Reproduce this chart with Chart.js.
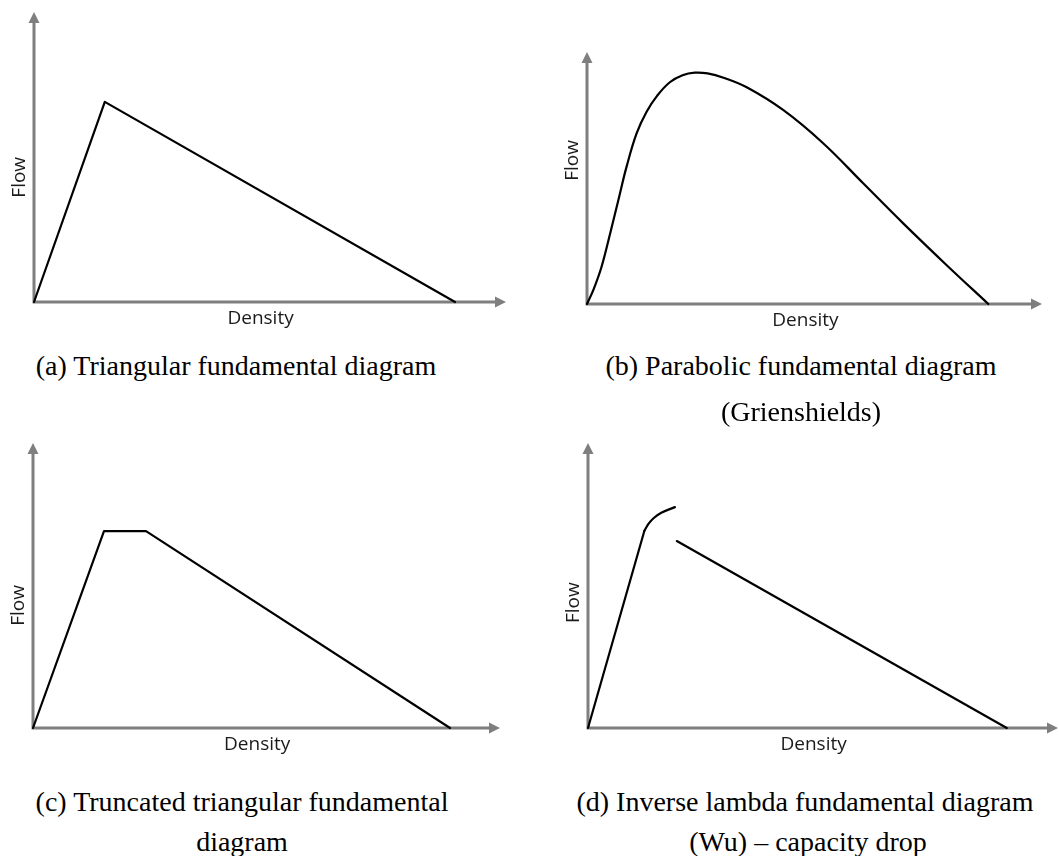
<!DOCTYPE html>
<html>
<head>
<meta charset="utf-8">
<script src="https://cdn.jsdelivr.net/npm/chart.js@4"></script>
<style>
  html, body { margin: 0; padding: 0; background: #fff; }
  body { width: 1059px; height: 856px; position: relative; overflow: hidden; }
  canvas.panel { position: absolute; }
  .cap {
    position: absolute;
    font-family: "Liberation Serif", "Times New Roman", serif;
    font-size: 28px;
    color: #000;
    white-space: nowrap;
    transform: translate(-50%, -50%);
  }
</style>
</head>
<body>
<canvas id="pa" class="panel" width="530" height="330" style="left:0;top:0"></canvas>
<canvas id="pb" class="panel" width="529" height="330" style="left:530px;top:0"></canvas>
<canvas id="pc" class="panel" width="530" height="340" style="left:0;top:420px"></canvas>
<canvas id="pd" class="panel" width="529" height="340" style="left:530px;top:420px"></canvas>

<div class="cap" style="left:236px;top:366px">(a) Triangular fundamental diagram</div>
<div class="cap" style="left:801px;top:366px">(b) Parabolic fundamental diagram</div>
<div class="cap" style="left:801px;top:412px">(Grienshields)</div>
<div class="cap" style="left:242px;top:802px">(c) Truncated triangular fundamental</div>
<div class="cap" style="left:242px;top:842px">diagram</div>
<div class="cap" style="left:805px;top:802px">(d) Inverse lambda fundamental diagram</div>
<div class="cap" style="left:808px;top:842px">(Wu) – capacity drop</div>

<script>
// Density / flow in relative units: 100 = end of each axis arrow.

// (a) triangular
const triDensity = [0, 15.0, 89.2];
const triFlow    = [0, 69.0, 0];

// (b) parabolic (Greenshields-type hump)
const parDensity = [0, 1.4, 3.2, 5.1, 6.9, 8.7, 10.9, 13.1, 15.4, 18.2, 21.0, 23.7, 26.5, 30.0, 35.1, 43.1, 51.9, 60.7, 69.5, 79.0, 88.2];
const parFlow    = [0, 5.6, 14.8, 28.1, 41.3, 54.5, 67.7, 76.3, 82.6, 88.0, 90.8, 91.8, 91.5, 89.8, 86.0, 77.0, 63.8, 47.9, 32.0, 15.5, 0];

// (c) truncated triangular
const truDensity = [0, 15.2, 24.2, 89.3];
const truFlow    = [0, 69.1, 69.1, 0];

// (d) inverse lambda: straight free-flow rise, rounded shoulder, congested branch
const lamRiseDensity = [0, 12.0];
const lamRiseFlow    = [0, 69.2];
const lamTopDensity  = [12.0, 12.9, 14.0, 15.6, 18.5];
const lamTopFlow     = [69.2, 71.7, 73.7, 75.5, 77.5];
const lamCongDensity = [18.9, 89.1];
const lamCongFlow    = [65.6, 0];

const AXIS_GREY = '#7f7f7f';
const LABEL_FONT = '19px "Open Sans", "DejaVu Sans", sans-serif';

function pts(xs, ys) { return xs.map((v, i) => ({ x: v, y: ys[i] })); }

// Grey axes with arrowheads plus the "Flow" / "Density" labels.
const arrowAxes = {
  id: 'arrowAxes',
  beforeDatasetsDraw(chart, args, o) {
    const { ctx, scales: { x, y } } = chart;
    const ox = x.getPixelForValue(0), oy = y.getPixelForValue(0);
    const tx = x.getPixelForValue(x.max), ty = y.getPixelForValue(y.max);
    const head = 11, half = 5.5;
    ctx.save();
    ctx.strokeStyle = AXIS_GREY;
    ctx.fillStyle = AXIS_GREY;
    ctx.lineWidth = 3;
    ctx.lineCap = 'butt';
    ctx.beginPath();
    ctx.moveTo(ox - 1.5, oy); ctx.lineTo(tx - head + 1, oy);
    ctx.moveTo(ox, oy + 1.5); ctx.lineTo(ox, ty + head - 1);
    ctx.stroke();
    ctx.beginPath();
    ctx.moveTo(tx, oy); ctx.lineTo(tx - head, oy - half); ctx.lineTo(tx - head, oy + half);
    ctx.closePath(); ctx.fill();
    ctx.beginPath();
    ctx.moveTo(ox, ty); ctx.lineTo(ox - half, ty + head); ctx.lineTo(ox + half, ty + head);
    ctx.closePath(); ctx.fill();

    ctx.fillStyle = '#1a1a1a';
    ctx.font = LABEL_FONT;
    ctx.textAlign = 'center';
    ctx.textBaseline = 'middle';
    ctx.fillText(o.xTitle, x.getPixelForValue(o.xTitleAt), oy + o.xGap);
    ctx.translate(ox - o.yGap, y.getPixelForValue(o.yTitleAt));
    ctx.rotate(-Math.PI / 2);
    ctx.fillText(o.yTitle, 0, 0);
    ctx.restore();
  }
};

function lineSet(data, mode) {
  const curved = mode !== 'straight';
  return {
    data,
    showLine: true,
    borderColor: '#000',
    borderWidth: 2.2,
    borderCapStyle: 'round',
    borderJoinStyle: 'round',
    pointRadius: 0,
    fill: false,
    clip: false,
    tension: curved ? 0.4 : 0,
    cubicInterpolationMode: mode === 'monotone' ? 'monotone' : 'default'
  };
}

function panel(id, datasets, padding, yTitleAt) {
  return new Chart(document.getElementById(id), {
    type: 'scatter',
    data: { datasets },
    options: {
      responsive: false,
      animation: false,
      devicePixelRatio: 1,
      layout: { padding },
      events: [],
      scales: {
        x: { type: 'linear', min: 0, max: 100, display: false },
        y: { type: 'linear', min: 0, max: 100, display: false }
      },
      plugins: {
        legend: { display: false },
        tooltip: { enabled: false },
        arrowAxes: {
          xTitle: 'Density', xTitleAt: 48, xGap: 17,
          yTitle: 'Flow', yTitleAt: yTitleAt, yGap: 14
        }
      }
    },
    plugins: [arrowAxes]
  });
}

panel('pa', [lineSet(pts(triDensity, triFlow), 'straight')],
      { left: 34, top: 12, right: 24, bottom: 28 }, 43);
panel('pb', [lineSet(pts(parDensity, parFlow), 'spline')],
      { left: 57, top: 52, right: 17, bottom: 26 }, 57);
panel('pc', [lineSet(pts(truDensity, truFlow), 'straight')],
      { left: 33, top: 23, right: 30, bottom: 32 }, 43);
panel('pd', [lineSet(pts(lamRiseDensity, lamRiseFlow), 'straight'),
             lineSet(pts(lamTopDensity, lamTopFlow), 'monotone'),
             lineSet(pts(lamCongDensity, lamCongFlow), 'straight')],
      { left: 58, top: 23, right: 1, bottom: 32 }, 44);
</script>
</body>
</html>
